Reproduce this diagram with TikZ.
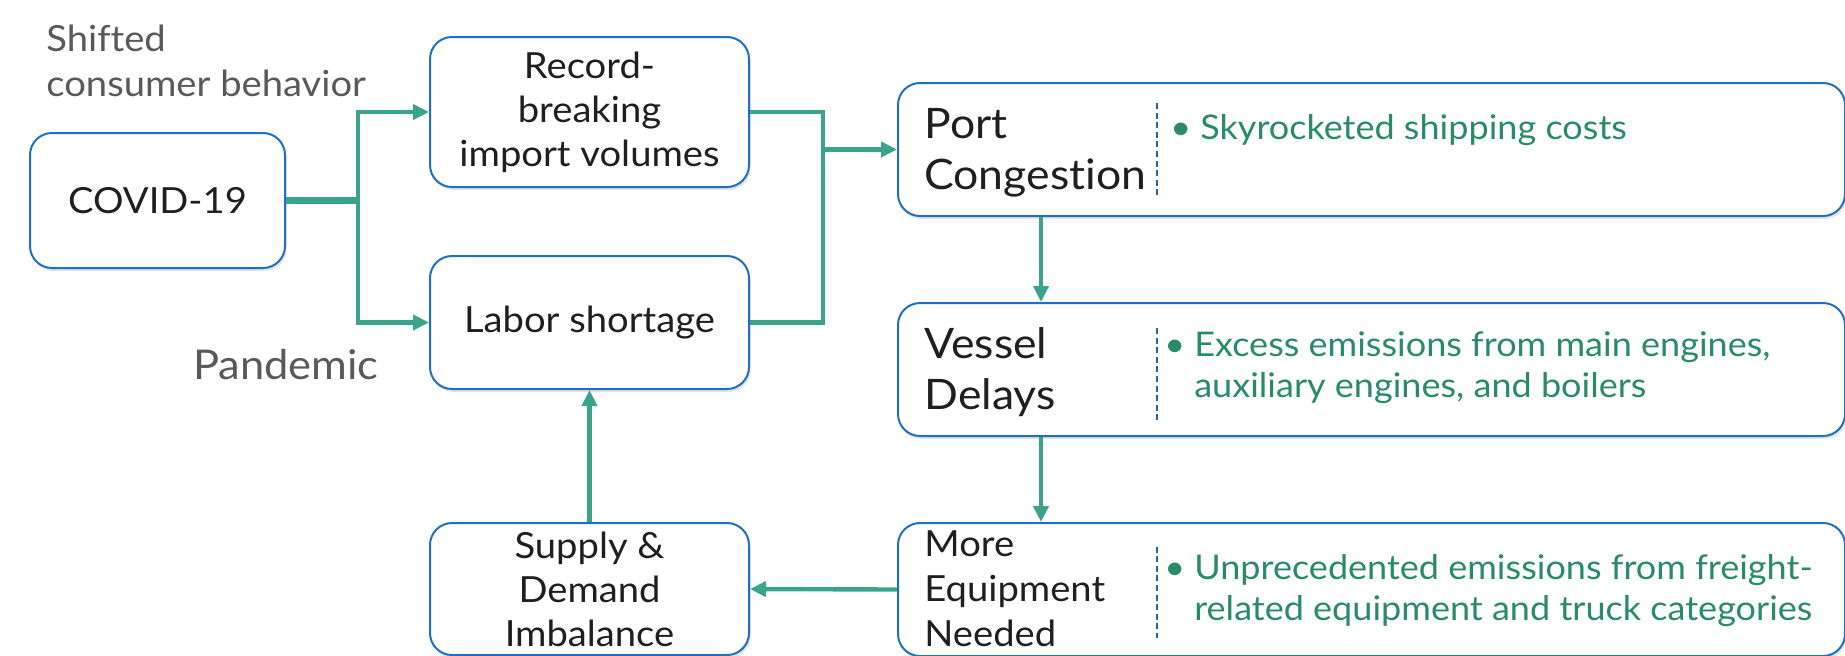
\documentclass[tikz,border=0pt]{standalone}
\usepackage{fontspec}
\setmainfont{Lato}[Ligatures=NoCommon, FakeStretch=1.06]
\usetikzlibrary{arrows.meta,positioning,shadows}

\definecolor{boxblue}{RGB}{31,112,192}
\definecolor{flowteal}{RGB}{58,163,142}
\definecolor{notegreen}{RGB}{42,138,108}
\definecolor{asidegray}{RGB}{89,89,89}
\definecolor{divblue}{RGB}{38,100,160}

\begin{document}
\begin{tikzpicture}[x=0.5pt,y=-0.5pt,>={Triangle[length=8pt,width=7.5pt]},
                    node distance=33.5pt]
  \tikzstyle{cause}=[draw=boxblue, line width=1pt, rounded corners=11pt, fill=white,
                     drop shadow={shadow xshift=0.8pt,shadow yshift=-1.5pt,opacity=0.22},
                     minimum width=159.5pt, align=center, text=black!88,
                     font=\fontsize{18}{22}\selectfont, inner sep=0pt]
  \tikzstyle{effect}=[cause, minimum width=473.5pt, minimum height=66.5pt]
  \tikzstyle{title}=[inner sep=0pt, align=left, text=black!88,
                     font=\fontsize{21}{25.5}\selectfont]
  \tikzstyle{note}=[inner sep=0pt, text=notegreen, font=\fontsize{17}{20.5}\selectfont]
  \tikzstyle{aside}=[inner sep=0pt, align=left, text=asidegray]
  \tikzstyle{flow}=[->, draw=flowteal, line width=2.2pt]
  \tikzstyle{link}=[flow, -]
  \tikzstyle{trunk}=[link, line width=3.5pt]
  \tikzstyle{divider}=[draw=divblue, line width=0.9pt, dash pattern=on 3pt off 1.8pt]

  \useasboundingbox (0,0) rectangle (1845,655);

  % causes on the left
  \node[cause, minimum width=127.5pt, minimum height=67.5pt] (covid) at (157.5,200.5) {COVID-19};
  \node[cause, minimum height=75pt] (record) at (589.5,112) {Record-\\breaking\\import volumes};
  \node[cause, minimum height=66.5pt] (labor) [below=of record] {Labor shortage};
  \node[cause, minimum height=66pt] (supply) [below=66pt of labor] {Supply \&\\Demand\\Imbalance};

  \node[aside, font=\fontsize{18}{22.5}\selectfont] (shifted) [above right=17.5pt and 8.5pt of covid.north west]
       {Shifted\\consumer behavior};
  \node[aside, font=\fontsize{20.5}{25}\selectfont] (pandemic) [below left=13.25pt and 25pt of labor.west] {Pandemic};

  % effects on the right
  \node[effect, anchor=north west] (port) at (897,82) {};
  \node[effect] (vessel) [below=42.5pt of port] {};
  \node[effect] (more) [below=42.5pt of vessel] {};

  \node[title] (porthead) [below right=13pt and 13.5pt of port.north west] {Port\\Congestion};
  \node[title] (vesselhead) [below right=12.5pt and 13.5pt of vessel.north west] {Vessel\\Delays};
  \node[title, font=\fontsize{18}{22.5}\selectfont] (morehead) [below right=4pt and 13.5pt of more.north west]
       {More\\Equipment\\Needed};

  \draw[divider] ([shift={(260,-46.5)}]port.west) -- ([shift={(260,46.5)}]port.west);
  \draw[divider] ([shift={(260,-41.5)}]vessel.west) -- ([shift={(260,50.5)}]vessel.west);
  \draw[divider] ([shift={(260,-43)}]more.west) -- ([shift={(260,48)}]more.west);

  \node[note, anchor=base west] (portnote) at ([shift={(273,-10.5)}]port.west)
       {\begin{tabular}[t]{@{}l@{\hspace{4.5pt}}l@{}}\textbullet & Skyrocketed shipping costs\end{tabular}};
  \node[note, anchor=base west] (vesselnote) at ([shift={(267,-13.5)}]vessel.west)
       {\begin{tabular}[t]{@{}l@{\hspace{4.5pt}}l@{}}\textbullet & Excess emissions from main engines,\\
        & auxiliary engines, and boilers\end{tabular}};
  \node[note, anchor=base west] (morenote) at ([shift={(267,-10)}]more.west)
       {\begin{tabular}[t]{@{}l@{\hspace{4.5pt}}l@{}}\textbullet & Unprecedented emissions from freight-\\
        & related equipment and truck categories\end{tabular}};

  % connectors
  \coordinate[right=36pt of covid.east] (split);
  \coordinate[right=36.5pt of record.east] (merge);

  \draw[trunk] (covid.east) -- (split);
  \draw[flow] (split) |- (record.west);
  \draw[flow] (split) |- (labor.west);
  \draw[link] (record.east) -- (merge) |- (labor.east);
  \draw[flow] (merge |- port.west) -- (port.west);
  \draw[flow] ([xshift=72pt]port.south west) -- ([xshift=72pt]vessel.north west);
  \draw[flow] ([xshift=72pt]vessel.south west) -- ([xshift=72pt]more.north west);
  \draw[flow] (more.west) -- (supply.east);
  \draw[flow] (supply.north) -- (labor.south);
\end{tikzpicture}
\end{document}
